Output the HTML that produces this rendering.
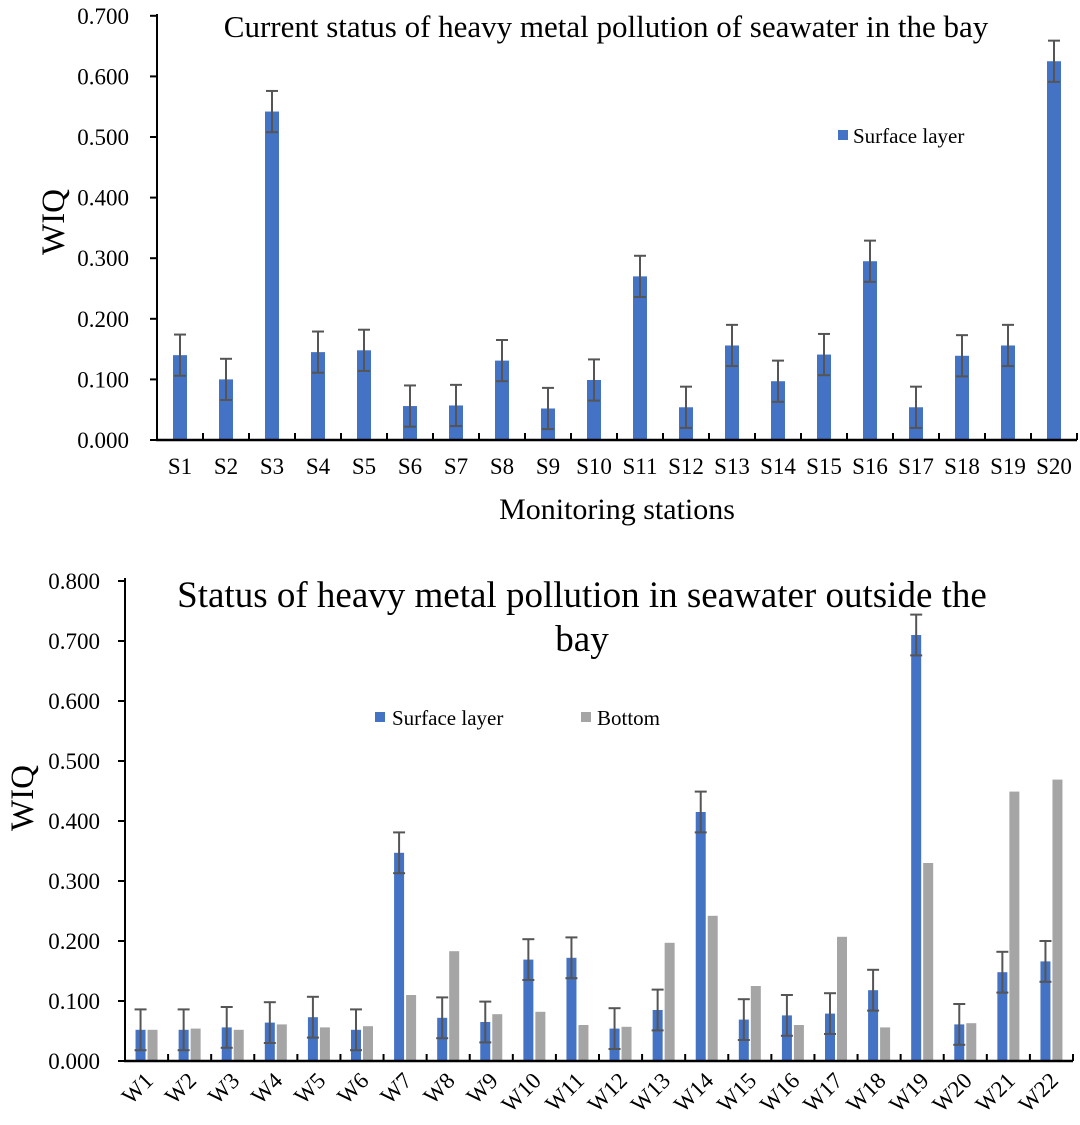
<!DOCTYPE html>
<html><head><meta charset="utf-8"><style>
body{margin:0;background:#fff;}
svg text{font-family:"Liberation Serif",serif;fill:#000;}
</style></head><body>
<svg id="c" width="1080" height="1120" xmlns="http://www.w3.org/2000/svg"></svg>
<script>
const topCats=["S1","S2","S3","S4","S5","S6","S7","S8","S9","S10","S11","S12","S13","S14","S15","S16","S17","S18","S19","S20"];
const topSurface=[0.140,0.100,0.542,0.145,0.148,0.056,0.057,0.131,0.052,0.099,0.270,0.054,0.156,0.097,0.141,0.295,0.054,0.139,0.156,0.625];
const topTicks=["0.000","0.100","0.200","0.300","0.400","0.500","0.600","0.700"];
const botCats=["W1","W2","W3","W4","W5","W6","W7","W8","W9","W10","W11","W12","W13","W14","W15","W16","W17","W18","W19","W20","W21","W22"];
const botSurface=[0.052,0.052,0.056,0.064,0.073,0.052,0.347,0.072,0.065,0.169,0.172,0.054,0.085,0.415,0.069,0.076,0.079,0.118,0.710,0.061,0.148,0.166];
const botBottom=[0.052,0.054,0.052,0.061,0.056,0.058,0.110,0.183,0.078,0.082,0.060,0.057,0.197,0.242,0.125,0.060,0.207,0.056,0.330,0.063,0.449,0.469];
const botTicks=["0.000","0.100","0.200","0.300","0.400","0.500","0.600","0.700","0.800"];
const errAmt=0.034;
const NS="http://www.w3.org/2000/svg";
const svg=document.getElementById('c');
function mk(tag,attrs,parent){const e=document.createElementNS(NS,tag);for(const k in attrs)e.setAttribute(k,attrs[k]);(parent||svg).appendChild(e);return e;}
function txt(s,attrs,parent){const e=mk('text',attrs,parent);e.textContent=s;return e;}
function errBar(g,cx,v,y){
  const t=y(v+errAmt),b=y(Math.max(0,v-errAmt));
  const l=mk('line',{x1:cx,x2:cx,y1:t,y2:b,stroke:'#555','stroke-width':2},g);
  
  
  mk('line',{x1:cx-6,x2:cx+6,y1:t,y2:t,stroke:'#555','stroke-width':2},g);
  mk('line',{x1:cx-6,x2:cx+6,y1:b,y2:b,stroke:'#555','stroke-width':2},g);
}
// TOP CHART
(function(){
  const g=mk('g',{});
  
  
  const x0=157,x1=1077,y0=440,pxPer=60.6/0.1;
  const y=v=>y0-v*pxPer;
  const bw=(x1-x0)/topCats.length;
  topTicks.forEach(t=>{const yy=y(+t);
    const e=txt(t,{x:129,y:yy+8,'font-size':23,'text-anchor':'end'},g);
    
    
    mk('line',{x1:150,x2:x0,y1:yy,y2:yy,stroke:'#000','stroke-width':2},g);});
  topCats.forEach((c,i)=>{
    const cx=x0+bw*(i+0.5),v=topSurface[i];
    const r=mk('rect',{x:cx-7,y:y(v),width:14,height:y0-y(v),fill:'#4472c4'},g);
    
    
    errBar(g,cx,v,y);
    const l=txt(c,{x:cx,y:474,'font-size':23,'text-anchor':'middle'},g);
    
    
    mk('line',{x1:x0+bw*(i+1),x2:x0+bw*(i+1),y1:y0,y2:y0-7,stroke:'#000','stroke-width':2},g);
  });
  mk('line',{x1:x0,x2:x0,y1:14,y2:y0+1,stroke:'#000','stroke-width':2},g);
  mk('line',{x1:x0-1,x2:x1,y1:y0,y2:y0,stroke:'#000','stroke-width':2.5},g);
  const t=txt('Current status of heavy metal pollution of seawater in the bay',{x:606,y:37,'font-size':31,'text-anchor':'middle'},g);
  
  const yt=txt('WIQ',{x:0,y:0,'font-size':33,'text-anchor':'middle',transform:'translate(64,222) rotate(-90)'},g);
  
  const xt=txt('Monitoring stations',{x:617,y:519,'font-size':30,'text-anchor':'middle'},g);
  
  const lg=mk('g',{},g);
  mk('rect',{x:838,y:130,width:10,height:10,fill:'#4472c4'},lg);
  txt('Surface layer',{x:853,y:143,'font-size':21},lg);
})();
// BOTTOM CHART
(function(){
  const g=mk('g',{});
  
  
  const x0=125,x1=1073,y0=1061,pxPer=60.0/0.1;
  const y=v=>y0-v*pxPer;
  const bw=(x1-x0)/botCats.length;
  botTicks.forEach(t=>{const yy=y(+t);
    const e=txt(t,{x:100,y:yy+8,'font-size':23,'text-anchor':'end'},g);
    
    
    mk('line',{x1:118,x2:x0,y1:yy,y2:yy,stroke:'#000','stroke-width':2},g);});
  botCats.forEach((c,i)=>{
    const cx=x0+bw*(i+0.5),v=botSurface[i],w=botBottom[i];
    const r=mk('rect',{x:cx-11,y:y(v),width:10,height:y0-y(v),fill:'#4472c4'},g);
    
    
    const r2=mk('rect',{x:cx+1,y:y(w),width:10,height:y0-y(w),fill:'#a5a5a5'},g);
    
    
    errBar(g,cx-6,v,y);
    const l=txt(c,{x:0,y:0,'font-size':23,'text-anchor':'end',transform:`translate(${cx+8},${1082}) rotate(-45)`},g);
    
    
    mk('line',{x1:x0+bw*(i+1),x2:x0+bw*(i+1),y1:y0,y2:y0-7,stroke:'#000','stroke-width':2},g);
  });
  mk('line',{x1:x0,x2:x0,y1:578,y2:y0+1,stroke:'#000','stroke-width':2},g);
  mk('line',{x1:x0-1,x2:x1,y1:y0,y2:y0,stroke:'#000','stroke-width':2.5},g);
  const t=txt('Status of heavy metal pollution in seawater outside the',{x:582,y:607,'font-size':37,'text-anchor':'middle'},g);
  
  txt('bay',{x:582,y:651,'font-size':37,'text-anchor':'middle'},g);
  const yt=txt('WIQ',{x:0,y:0,'font-size':33,'text-anchor':'middle',transform:'translate(33,798) rotate(-90)'},g);
  
  const lg=mk('g',{},g);
  mk('rect',{x:375,y:712,width:10,height:10,fill:'#4472c4'},lg);
  txt('Surface layer',{x:392,y:725,'font-size':21},lg);
  const lg2=mk('g',{},g);
  mk('rect',{x:581,y:712,width:10,height:10,fill:'#a5a5a5'},lg2);
  txt('Bottom',{x:597,y:725,'font-size':21},lg2);
})();
</script>
</body></html>
